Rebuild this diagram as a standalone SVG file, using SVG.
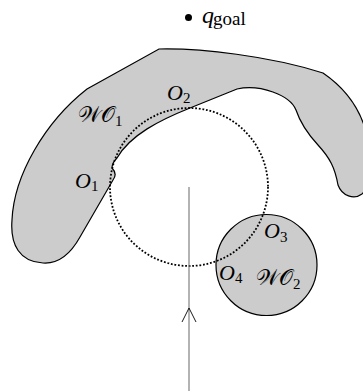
<svg xmlns="http://www.w3.org/2000/svg" width="363" height="391" viewBox="0 0 363 391">
<style>
.obs{fill:#cccccc;stroke:#000;stroke-width:1.2}
.lbl{font-family:"Liberation Serif",serif;font-style:italic;font-size:22px;fill:#000}
.cal{font-family:"DejaVu Serif","DejaVu Sans","Liberation Serif",serif;font-style:normal;font-size:22px;fill:#000}
.sub{font-family:"Liberation Serif",serif;font-style:normal;font-size:15px;fill:#000}
</style>
<rect width="363" height="391" fill="#fff"/>
<g id="WO1">
<path class="obs" d="M159,49 C200,48 270,56 323,73 C345,88 358,108 364,125 C372,150 372,185 362,194 C354,200 342,196 338,185 C335,168 330,158 318,145 C306,132 300,122 296,110 C290,95 260,84 237,89 L190,108 C160,120 130,135 117,158 C112,163 112,166 112,168 C116,172 116,176 113,180 L80,237 C70,255 58,264 43,263 C20,262 10,245 12,220 C14,175 45,122 87,89 Z"/>
<text class="cal" x="78" y="122">𝒲𝒪<tspan class="sub" dy="4">1</tspan></text>
</g>
<g id="WO2">
<circle class="obs" cx="266.5" cy="265" r="50.5"/>
<text class="cal" x="256" y="285">𝒲𝒪<tspan class="sub" dy="4">2</tspan></text>
</g>
<g id="goal">
<circle cx="188.5" cy="17.5" r="3.5" fill="#000"/>
<text class="lbl" x="202" y="23" style="font-size:24px">q<tspan class="sub" dy="2" dx="-1" style="font-size:19px">goal</tspan></text>
</g>
<g id="connectors">
<circle cx="189" cy="187" r="79" fill="none" stroke="#000" stroke-width="1.8" stroke-dasharray="1.8 1.8"/>
<line x1="189" y1="187" x2="189" y2="391" stroke="#808080" stroke-width="1.2"/>
<path d="M182,322 L189,308 L196,322" fill="none" stroke="#000" stroke-width="0.9"/>
</g>
<g id="points">
<text class="lbl" x="75" y="188">O<tspan class="sub" dy="3">1</tspan></text>
<text class="lbl" x="167" y="100">O<tspan class="sub" dy="3">2</tspan></text>
<text class="lbl" x="264" y="238">O<tspan class="sub" dy="4">3</tspan></text>
<text class="lbl" x="219" y="280">O<tspan class="sub" dy="3">4</tspan></text>
</g>
</svg>
